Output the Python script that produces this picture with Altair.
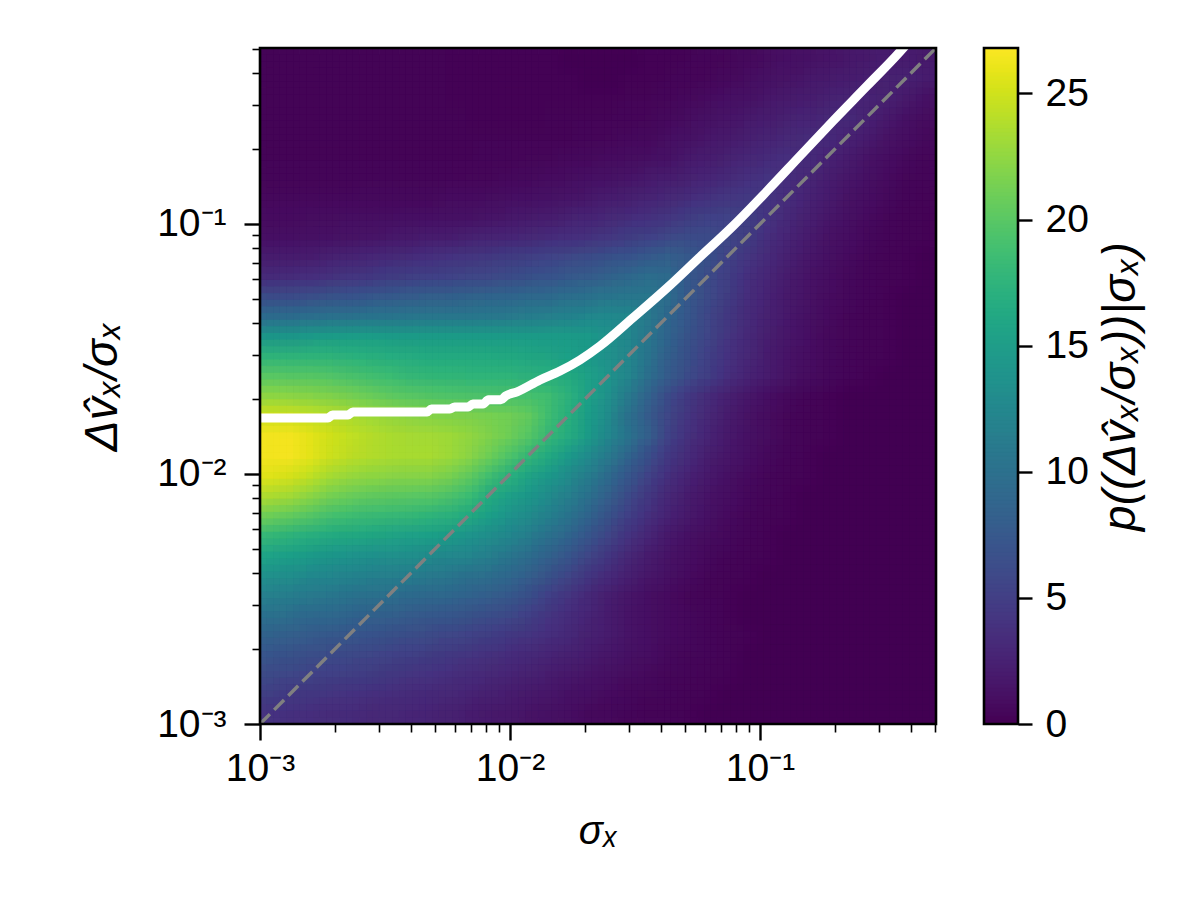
import altair as alt
import numpy as np
import pandas as pd

alt.data_transformers.disable_max_rows()

X_MIN, X_MAX = 0.001, 0.5058
V_MAX = 26.8
FONT = "Liberation Sans"
NCELL = 34

# density, rows from top to bottom, columns left to right
density_rows = [
[.3,.3,.3,.3,.3,.3,.3,.3,.3,.2,.2,.2,.2,.2,.2,.1,.1,.1,.1,.2,.2,.3,.4,.5,.7,.9,1.1,1.3,1.5,1.7,1.9,2,2,1.9],
[.3,.3,.3,.3,.3,.3,.3,.3,.3,.2,.2,.2,.2,.2,.2,.2,.1,.1,.2,.2,.3,.4,.5,.7,.9,1.2,1.4,1.7,1.9,2.1,2.3,2.5,2.5,2],
[.3,.3,.3,.3,.3,.3,.3,.3,.3,.2,.2,.2,.2,.2,.2,.2,.2,.2,.3,.3,.4,.6,.8,1.1,1.3,1.6,1.9,2.1,2.4,2.6,2.8,2.5,1.9,1.3],
[.3,.3,.3,.3,.3,.3,.3,.3,.3,.3,.2,.2,.2,.2,.3,.3,.3,.3,.4,.5,.7,.9,1.2,1.5,1.8,2.1,2.4,2.7,3,3.2,2.6,1.9,1.3,.9],
[.3,.3,.3,.3,.3,.3,.3,.3,.3,.3,.3,.3,.3,.3,.3,.3,.4,.5,.6,.7,1,1.3,1.6,1.9,2.3,2.6,3,3.4,3.3,2.6,2,1.4,1,.7],
[.3,.3,.3,.3,.3,.3,.3,.3,.3,.3,.3,.4,.4,.5,.5,.6,.7,.8,.9,1,1.3,1.8,2.1,2.5,2.9,3.3,3.7,3.4,2.7,2.1,1.5,1,.7,.5],
[.4,.4,.4,.4,.4,.4,.4,.4,.4,.4,.5,.5,.6,.7,.8,.9,1.1,1.3,1.5,1.8,2.1,2.4,2.8,3.2,3.7,4.1,3.7,3,2.3,1.7,1.2,.8,.5,.4],
[.6,.6,.6,.6,.6,.7,.7,.7,.7,.8,.8,.9,1,1.1,1.3,1.5,1.7,2,2.3,2.6,3,3.4,3.9,4.3,4.6,4.3,3.5,2.7,2,1.4,1,.7,.4,.3],
[.8,.8,.9,.9,1,1,1,1.1,1.1,1.2,1.3,1.5,1.7,1.9,2.1,2.4,2.7,3,3.4,3.8,4.2,4.7,5.2,5.4,5,4.1,3.2,2.4,1.7,1.2,.8,.5,.3,.2],
[1.1,1.1,1.2,1.3,1.4,1.5,1.7,1.8,2,2.2,2.4,2.6,2.8,3,3.3,3.6,3.9,4.3,4.7,5.2,5.8,6.2,6.2,5.8,4.8,3.7,2.8,2,1.4,1,.6,.4,.3,.2],
[2,2,2.2,2.4,2.6,2.9,3.2,3.4,3.7,4,4.2,4.5,4.7,5,5.4,5.8,6.2,6.6,7,7.6,8,7.6,6.6,5.4,4.3,3.3,2.4,1.7,1.2,.8,.5,.3,.2,.1],
[3.3,3.4,3.6,3.9,4.2,4.4,4.7,5,5.2,5.4,5.6,5.9,6.2,6.6,7,7.4,7.8,8.3,8.9,9.6,9.4,7.6,6.2,4.9,3.8,2.9,2.1,1.5,1,.7,.4,.3,.2,.1],
[6.2,6.2,6.5,6.8,7,7.3,7.6,7.8,8,8.2,8.4,8.6,8.8,9,9.3,9.7,10,10.4,10.7,10.8,9.6,7.6,6.1,4.8,3.6,2.7,1.9,1.4,.9,.6,.4,.2,.1,.1],
[9.5,9.5,9.8,10,10.2,10.3,10.4,10.5,10.6,10.7,10.8,10.9,11,11.2,11.5,12,12.4,12.8,12.6,11,8.9,7.3,5.8,4.5,3.4,2.5,1.8,1.2,.8,.5,.3,.2,.1,.1],
[14.2,14.2,14.5,14.8,15,15,14.9,14.8,14.8,14.8,14.8,14.8,14.8,14.8,14.9,14.9,14.6,13.6,12.4,10.6,8.6,6.9,5.5,4.3,3.2,2.3,1.6,1.1,.7,.5,.3,.2,.1,.1],
[17.5,17.5,17.5,17.5,17.2,17,16.8,16.6,16.4,16.4,16.4,16.3,16.2,16,15.8,15.3,14.6,13.5,12.3,10.4,8.2,6.6,5.2,4,3,2.2,1.5,1,.7,.4,.3,.2,.1,0],
[20,19.8,19.8,19.6,19.2,18.8,18.4,18,17.8,17.7,17.6,17.6,17.6,17.4,17,16.4,15.4,14,12.2,9.9,7.8,6.2,4.9,3.7,2.7,2,1.4,.9,.6,.4,.2,.1,.1,0],
[22.3,22.2,22,21.7,21.3,20.8,20.3,19.9,19.7,19.5,19.4,19.3,19.2,19,18.5,17.4,15.5,13.5,11,8.5,6.2,4.6,3.4,2.4,1.7,1.1,.7,.4,.2,.1,.1,0,0,0],
[25,24.9,24.5,24,23.5,23,22.6,22.2,22,21.8,21.6,21.4,21.1,20.4,18.5,17,15,13,10,7.8,5.7,4.2,3.1,2.1,1.4,.9,.5,.3,.2,.1,0,0,0,0],
[26.4,26.4,25.8,25,24.4,23.9,23.5,23.3,23.2,23,22.5,21.8,21,19.8,18.1,16.6,14.9,12.6,10.3,8,5.4,3.9,2.8,1.9,1.3,.9,.5,.3,.2,.1,0,0,0,0],
[26.4,26.5,25.8,24.8,24.2,23.8,23.5,23.4,23.4,23,22.2,21,19.5,18,16.3,14.7,12.9,11,8.8,6.6,4.6,3.4,2.3,1.6,1.1,.7,.4,.2,.1,.1,0,0,0,0],
[25.6,25.2,24.4,23.4,22.8,22.4,22.2,22.1,22,21.5,20.4,18.8,17.2,15.8,14.5,13,11.2,9.4,7.3,5.4,3.8,2.7,1.9,1.3,.8,.5,.3,.2,.1,0,0,0,0,0],
[23.6,23.2,22.3,21.4,20.8,20.4,20.2,20.1,19.9,19.4,18.4,16.6,15.5,14.3,13,11.7,10,8.1,6.2,4.5,3.1,2.2,1.5,1,.6,.4,.2,.1,0,0,0,0,0,0],
[21,20.5,19.8,19,18.6,18.3,18.2,18,17.6,17.2,16.4,15.2,14,13,11.8,10.3,8.7,6.9,5.2,3.8,2.7,1.9,1.3,.8,.5,.3,.2,.1,0,0,0,0,0,0],
[18,17.5,17,16.5,16.2,16,15.8,15.5,15.2,14.8,14,13.3,12.4,11.4,10.2,8.8,7.2,5.5,4.1,2.9,1.9,1.3,.9,.6,.4,.2,.1,0,0,0,0,0,0,0],
[15.6,15.2,14.7,14.3,14,13.7,13.5,13.3,13,12.7,12.2,11.5,10.6,9.6,8.4,7.2,5.7,4.4,3.1,2.2,1.5,1,.7,.4,.3,.2,.1,0,0,0,0,0,0,0],
[13.6,13.2,12.8,12.4,12.1,11.8,11.6,11.3,11,10.6,10.2,9.7,9,8,6.9,5.6,4.4,3.3,2.4,1.7,1.2,.8,.5,.3,.2,.1,0,0,0,0,0,0,0,0],
[11.7,11.4,11,10.6,10.3,10,9.8,9.5,9.2,8.9,8.5,8.1,7.6,6.6,5.3,4.3,3.2,2.3,1.6,1.1,.8,.5,.3,.2,.1,0,0,0,0,0,0,0,0,0],
[10,9.7,9.3,9,8.7,8.4,8.2,7.9,7.6,7.3,6.9,6.5,6,5.2,4.3,3.5,2.8,2.1,1.5,1.1,.8,.6,.4,.2,.1,0,0,0,0,0,0,0,0,0],
[8.4,8.1,7.8,7.5,7.2,7,6.7,6.4,6.1,5.8,5.4,5,4.6,4.2,3.7,3.2,2.5,2,1.5,1.1,.8,.6,.4,.3,.2,.1,0,0,0,0,0,0,0,0],
[7.1,6.8,6.5,6.2,6,5.7,5.4,5.1,4.8,4.6,4.3,3.9,3.5,3.2,2.8,2.4,2,1.6,1.3,1,.7,.5,.4,.3,.1,.1,0,0,0,0,0,0,0,0],
[6,5.7,5.4,5.1,4.9,4.7,4.5,4.2,4,3.7,3.4,3.1,2.8,2.5,2.1,1.8,1.5,1.2,.9,.7,.5,.4,.3,.2,.1,.1,0,0,0,0,0,0,0,0],
[4.9,4.6,4.4,4.2,4,3.8,3.6,3.4,3.2,3,2.7,2.4,2.1,1.9,1.6,1.3,1.1,.8,.6,.5,.4,.3,.2,.1,.1,0,0,0,0,0,0,0,0,0],
[4,3.8,3.6,3.4,3.3,3.1,3,2.8,2.7,2.5,2.2,1.9,1.7,1.4,1.2,1,.7,.6,.4,.3,.3,.2,.1,.1,0,0,0,0,0,0,0,0,0,0],
]

curve_x = [.001,.00187,.00195,.00225,.00235,.00466,.00485,.00575,.0060,.0068,.0071,.0078,.0082,.0092,.0096,.01067,.01318,.01585,.01905,.0229,.0310,.0425,.0575,.078,.1067,.1445,.1959,.2679,.362,.380]
curve_y = [.01675,.01675,.01722,.01722,.0177,.0177,.0182,.0182,.01854,.01854,.01905,.01905,.0198,.0198,.0205,.0213,.02377,.0258,.02858,.0325,.0421,.0555,.0738,.0982,.1355,.187,.2582,.3565,.4875,.515]

major_ticks = [0.001, 0.01, 0.1]
minor_ticks = [.002,.003,.004,.005,.006,.007,.008,.009,.02,.03,.04,.05,.06,.07,.08,.09,.2,.3,.4,.5]
cbar_ticks = [0, 5, 10, 15, 20, 25]

assert len(density_rows) == NCELL and all(len(r) == NCELL for r in density_rows)

step = (X_MAX / X_MIN) ** (1 / NCELL)
records, blended = [], []
# the read-off cells are drawn at sub-cell offsets, each pass translucent, to soften the block edges
offsets = [(0, 0), (-1, -1), (1, 1), (-1, 1), (1, -1), (0, -1), (0, 1), (-1, 0), (1, 0)]
for k, (dx, dy) in enumerate(offsets, start=1):
    fx, fy = step ** (dx / 3), step ** (dy / 3)
    for r in range(NCELL):
        for c in range(NCELL):
            rec = {
                "x": X_MIN * step ** c * fx, "x2": X_MIN * step ** (c + 1) * fx,
                "y": X_MIN * step ** (NCELL - r - 1) * fy, "y2": X_MIN * step ** (NCELL - r) * fy,
                "v": density_rows[r][c], "a": round(1 / k, 4),
            }
            (records if k == 1 else blended).append(rec)
cells = pd.DataFrame(records)
soft = pd.DataFrame(blended)

log_x = alt.Scale(type="log", domain=[X_MIN, X_MAX], nice=False)
log_y = alt.Scale(type="log", domain=[X_MIN, X_MAX], nice=False)
viridis = alt.Scale(scheme="viridis", domain=[0, V_MAX])
LABELS = 'datum.value==0.001?"10⁻³":datum.value==0.01?"10⁻²":"10⁻¹"'
LABEL_SIZE = 39
TITLE = dict(titleFont=FONT, titleFontStyle="italic", titleFontWeight="normal", titleColor="black")
LAB = dict(labelFont=FONT, labelFontSize=LABEL_SIZE, labelColor="black", labelOverlap=False)

major_x = alt.Axis(values=major_ticks, labelExpr=LABELS, title="σₓ", orient="bottom", grid=False, domain=False,
                   tickSize=16, tickWidth=2.4, tickColor="black", labelPadding=9, labelFlush=False,
                   titlePadding=23, titleFontSize=40, **LAB, **TITLE)
major_y = alt.Axis(values=major_ticks, labelExpr=LABELS, title="Δv̂ₓ/σₓ", orient="left", grid=False, domain=False,
                   tickSize=16, tickWidth=2.4, tickColor="black", labelPadding=18,
                   titlePadding=30, titleFontSize=46, **LAB, **TITLE)
minor_x = alt.Axis(values=minor_ticks, labels=False, title=None, orient="bottom", grid=False, domain=False,
                   tickSize=8, tickWidth=1.6, tickColor="black")
minor_y = alt.Axis(values=minor_ticks, labels=False, title=None, orient="left", grid=False, domain=False,
                   tickSize=8, tickWidth=1.6, tickColor="black")

heat = alt.Chart(cells).mark_rect(strokeWidth=0.7, clip=True).encode(
    x=alt.X("x:Q", scale=log_x, axis=major_x),
    x2="x2:Q",
    y=alt.Y("y:Q", scale=log_y, axis=major_y),
    y2="y2:Q",
    color=alt.Color("v:Q", scale=viridis, legend=None),
    stroke=alt.Stroke("v:Q", scale=viridis, legend=None),
)
heat_soft = alt.Chart(soft).mark_rect(clip=True).encode(
    x=alt.X("x:Q", scale=log_x, axis=None),
    x2="x2:Q",
    y=alt.Y("y:Q", scale=log_y, axis=None),
    y2="y2:Q",
    color=alt.Color("v:Q", scale=viridis, legend=None),
    opacity=alt.Opacity("a:Q", scale=None, legend=None),
)
diag = alt.Chart(pd.DataFrame({"x": [X_MIN, X_MAX], "y": [X_MIN, X_MAX]})).mark_line(
    color="#808080", strokeWidth=3.4, strokeDash=[14, 6], clip=True
).encode(x=alt.X("x:Q", scale=log_x, axis=minor_x), y=alt.Y("y:Q", scale=log_y, axis=minor_y))
curve = alt.Chart(pd.DataFrame({"x": curve_x, "y": curve_y})).mark_line(
    color="white", strokeWidth=9, clip=True, interpolate="monotone"
).encode(x=alt.X("x:Q", scale=log_x, axis=None), y=alt.Y("y:Q", scale=log_y, axis=None))
frame = alt.Chart(pd.DataFrame({"x": [X_MIN], "x2": [X_MAX], "y": [X_MIN], "y2": [X_MAX]})).mark_rect(
    filled=False, stroke="black", strokeWidth=2.6
).encode(x=alt.X("x:Q", scale=log_x, axis=None), x2="x2:Q", y=alt.Y("y:Q", scale=log_y, axis=None), y2="y2:Q")

main = alt.layer(heat, heat_soft, diag, curve, frame).resolve_axis(x="independent", y="independent").resolve_scale(
    color="shared", stroke="shared").properties(width=676, height=676)

levels = np.linspace(0, V_MAX, 170)
bar_df = pd.DataFrame({"lo": levels[:-1], "hi": levels[1:], "v": levels[:-1]})
bar_scale = alt.Scale(domain=[0, V_MAX], nice=False, zero=False)
bar_axis = alt.Axis(
    values=cbar_ticks, orient="right", title="p((Δv̂ₓ/σₓ))|σₓ)", grid=False, domain=False, format="d",
    tickSize=14, tickWidth=2.4, tickColor="black", labelPadding=13, labelFlush=False,
    titleAngle=270, titlePadding=56, titleFontSize=46, **LAB, **TITLE)
bar = alt.Chart(bar_df).mark_rect(strokeWidth=0.7).encode(
    x=alt.value(0), x2=alt.value(34),
    y=alt.Y("lo:Q", scale=bar_scale, axis=bar_axis),
    y2="hi:Q",
    color=alt.Color("v:Q", scale=viridis, legend=None),
    stroke=alt.Stroke("v:Q", scale=viridis, legend=None),
)
bar_frame = alt.Chart(pd.DataFrame({"lo": [0], "hi": [V_MAX]})).mark_rect(
    filled=False, stroke="black", strokeWidth=2.6
).encode(x=alt.value(0), x2=alt.value(34), y=alt.Y("lo:Q", scale=bar_scale, axis=bar_axis), y2="hi:Q")
colorbar = alt.layer(bar, bar_frame).properties(width=34, height=676)

chart = alt.hconcat(main, colorbar, spacing=44).configure_view(stroke=None).properties(
    padding={"left": 71, "top": 38, "right": 5, "bottom": 5}, background="white")
chart.save("out.html", embed_options={"renderer": "svg", "actions": False})
